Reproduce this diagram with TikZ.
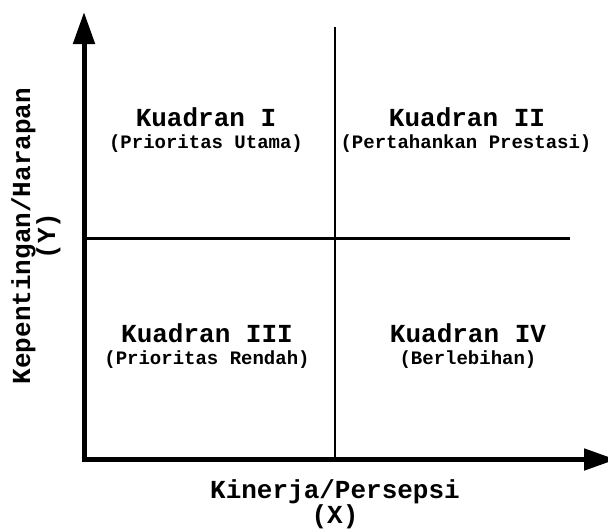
\documentclass[tikz,border=0pt]{standalone}
\usepackage{fontspec}
\setmainfont{Liberation Mono}
\usetikzlibrary{arrows.meta,positioning}

\begin{document}
\begin{tikzpicture}[x=1pt, y=-1pt, >={Triangle[length=32pt, width=21pt]}]
    \tikzset{
        axis/.style={draw, ->, line width=5pt},
        divider/.style={draw, line width=2.5pt},
        quadtitle/.style={anchor=base, inner sep=0pt, font=\bfseries\fontsize{26}{26}\selectfont},
        quadsub/.style={anchor=base, inner sep=0pt, font=\bfseries\fontsize{19}{19}\selectfont},
        axislabel/.style={anchor=base, inner sep=0pt, font=\bfseries\fontsize{26}{26}\selectfont}
    }
    \clip (0,0) rectangle (608,528);

    % axes and dividers
    \coordinate (origin) at (84,459.5);
    \coordinate (ytip) at (84,12);
    \coordinate (xtip) at (616,459.5);
    \coordinate (vtop) at (335,27);
    \coordinate (vbot) at (335,459.5);
    \coordinate (hleft) at (84,238.7);
    \coordinate (hright) at (570,238.7);

    \path [divider] (vtop) -- (vbot);
    \path [divider] (hleft) -- (hright);
    \path [axis] ([yshift=-2.5pt]origin) -- (ytip);
    \path [axis] ([xshift=-2.5pt]origin) -- (xtip);

    % quadrants
    \node [quadtitle] (q1) at (206,126) {Kuadran I};
    \node [quadsub] (q1sub) at (206,148) {(Prioritas Utama)};
    \node [quadtitle] (q2) at (467,126) {Kuadran II};
    \node [quadsub] (q2sub) at (466,148) {(Pertahankan Prestasi)};
    \node [quadtitle] (q3) at (207,342) {Kuadran III};
    \node [quadsub] (q3sub) at (207,364) {(Prioritas Rendah)};
    \node [quadtitle] (q4) at (468,342) {Kuadran IV};
    \node [quadsub] (q4sub) at (468,364) {(Berlebihan)};

    % axis labels
    \node [axislabel] (xlabel) at (335,498) {Kinerja/Persepsi};
    \node [axislabel] (xvar) at (335,523) {(X)};
    \node [axislabel, rotate=90] (ylabel) at (30,236) {Kepentingan/Harapan};
    \node [axislabel, rotate=90] (yvar) at (55,236) {(Y)};
\end{tikzpicture}
\end{document}
